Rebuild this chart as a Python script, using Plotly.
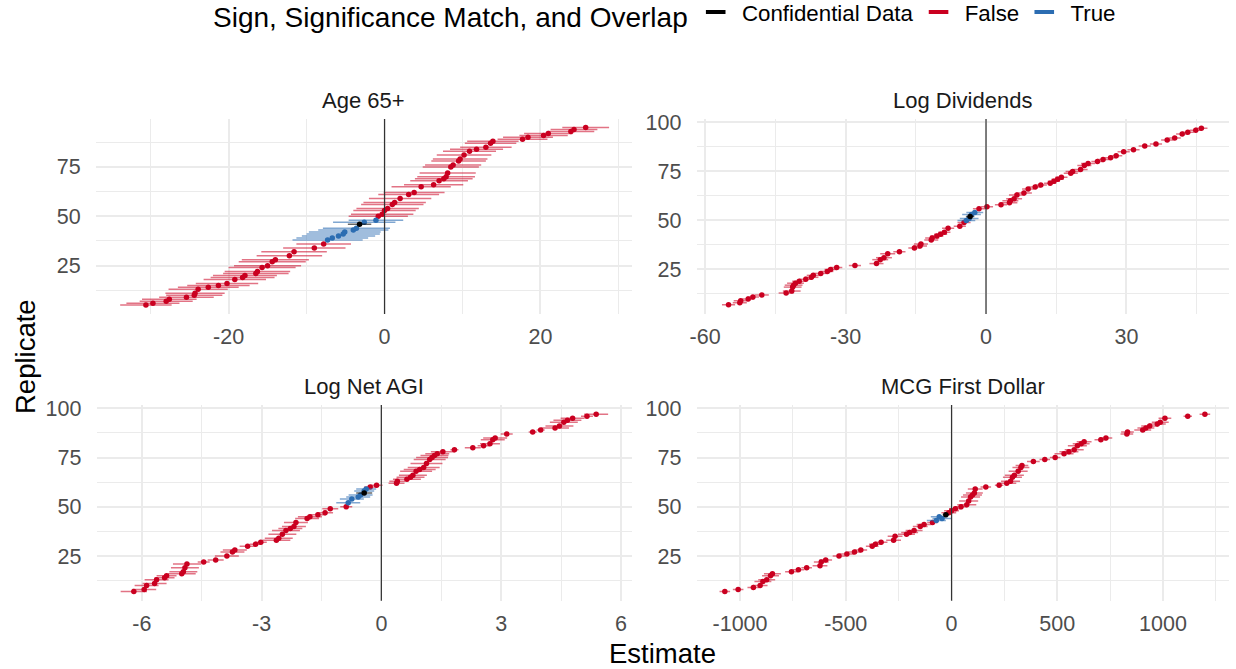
import plotly.graph_objects as go

# ---------------- data ----------------
panel_titles = ["Age 65+", "Log Dividends", "Log Net AGI", "MCG First Dollar"]
group_names = ["Confidential Data", "False", "True"]

# Age 65+
age_rep = [5, 6, 7, 8, 9, 10, 11, 13, 14, 15, 16, 18, 19, 20, 21, 22, 24, 25, 27, 28, 30, 32, 34, 36,
           38, 39, 40, 41, 42, 43, 44, 46, 47, 48,
           50, 51, 53, 54, 56, 57, 59, 61, 62, 65, 66, 68, 69, 70, 72, 75, 76, 78, 79, 81, 83, 84, 85,
           87, 88, 89, 90, 91, 92, 93, 94, 95]
age_est = [-30.6, -29.7, -28.0, -27.6, -25.4, -24.4, -24.3, -23.9, -22.6, -21.3, -20.2, -19.2, -18.2,
           -17.9, -16.5, -16.3, -15.7, -15.0, -14.4, -14.0, -12.2, -11.6, -9.0, -7.8,
           -7.3, -6.7, -5.9, -5.3, -5.1, -4.0, -3.6, -3.2, -2.6, -1.1,
           -0.8, -0.3, 0.0, 0.4, 1.0, 1.3, 2.0, 3.1, 3.8, 4.7, 6.3, 7.0, 7.6, 7.9, 8.1, 8.5, 8.8, 9.5,
           9.7, 10.2, 10.9, 11.8, 13.0, 13.6, 13.9, 17.7, 18.4, 20.4, 21.0, 23.9, 24.3, 25.8]
age_hw = [3.3, 3.4, 3.4, 3.5, 3.5, 3.6, 3.8, 3.8, 3.9, 4.0, 4.0, 4.0, 4.1, 4.1, 4.2, 4.2, 4.3, 4.3,
          4.3, 4.3, 4.2, 4.2, 4.0, 3.5,
          4.5, 4.6, 4.7, 4.7, 4.6, 4.5, 4.3, 1.5, 4.0, 3.5,
          3.8, 4.0, 4.0, 4.0, 4.0, 4.0, 4.0, 3.9, 3.9, 3.8, 3.8, 3.7, 3.7, 3.7, 3.6, 3.6, 3.6, 3.5,
          3.5, 3.5, 3.4, 3.4, 3.3, 3.3, 3.3, 3.2, 3.2, 3.1, 3.1, 3.0, 3.0, 3.0]
age_grp = (["False"] * 24 + ["True"] * 7 + ["Confidential Data"] + ["True"] * 2 + ["False"] * 32)

# Log Dividends
div_rep = [7, 8, 9, 10, 11, 12, 13, 14, 16, 17, 18, 19, 20, 21, 22, 23, 24, 25, 26, 27, 28, 30, 31, 33,
           34, 36, 37, 38, 40, 41, 42, 43, 44, 46, 47, 49,
           50, 51, 52, 53, 54,
           56, 57, 58, 59, 60, 61, 63, 64, 66, 67, 68, 69, 70, 71, 72, 74, 75, 76, 78, 79, 80, 81, 82,
           83, 85, 86, 88, 89, 91, 92, 94, 95, 96, 97]
div_est = [-55.0, -52.6, -52.4, -50.8, -49.8, -47.9, -42.7, -41.5, -41.3, -41.1, -40.7, -39.9, -38.5,
           -37.3, -36.9, -35.3, -33.9, -33.2, -31.9, -28.0, -23.4, -22.6, -21.8, -21.0, -18.5, -15.3,
           -14.1, -13.9, -11.7, -11.5, -10.5, -9.7, -8.9, -8.1, -5.6, -4.7,
           -4.2, -3.6, -3.4, -3.1, -2.4,
           -1.5, 0.2, 3.2, 5.0, 5.2, 6.0, 6.6, 8.1, 9.0, 10.5, 11.7, 13.7, 14.5, 15.3, 16.1, 18.1, 18.5,
           20.2, 21.0, 21.8, 23.8, 25.0, 26.6, 27.8, 29.4, 31.5, 33.9, 36.3, 38.7, 40.3, 41.9, 43.1,
           44.8, 46.0]
div_hw = [1.4, 1.5, 1.5, 1.3, 1.3, 1.5, 1.6, 1.9, 1.9, 1.9, 1.8, 1.5, 1.4, 1.5, 1.4, 1.3, 1.3, 1.3,
          1.2, 1.3, 1.5, 1.7, 1.7, 1.6, 1.3, 1.3, 1.5, 1.5, 1.5, 1.5, 1.4, 1.4, 1.3, 1.3, 1.3, 1.4,
          1.9, 2.0, 0.9, 2.0, 1.8,
          1.3, 1.3, 1.3, 1.7, 1.7, 1.7, 1.7, 1.7, 1.3, 1.3, 1.3, 1.3, 1.3, 1.3, 1.3, 1.5, 1.5, 1.5,
          1.5, 1.5, 1.3, 1.3, 1.3, 1.3, 1.3, 1.3, 1.3, 1.3, 1.3, 1.3, 1.3, 1.3, 1.3, 1.3]
div_grp = (["False"] * 36 + ["True"] * 2 + ["Confidential Data"] + ["True"] * 2 + ["False"] * 34)

# Log Net AGI
agi_rep = [7, 8, 10, 11, 13, 14, 15, 16, 17, 19, 21, 22, 23, 25, 27, 28, 30, 31, 32, 33, 34, 36, 38,
           39, 40, 42, 44, 45, 46, 47, 49, 50,
           52, 54, 55, 56, 57, 58, 59,
           60, 61, 62, 63, 64, 65, 66, 68, 69, 70, 72, 74, 75, 76, 77, 78, 79, 80, 81, 82, 84, 85, 87,
           88, 89, 90, 91, 93, 94, 95, 96, 97]
agi_est = [-6.2, -5.94, -5.88, -5.68, -5.63, -5.43, -5.38, -5.0, -4.96, -4.92, -4.87, -4.45, -4.15,
           -3.87, -3.73, -3.67, -3.35, -3.15, -3.02, -2.63, -2.57, -2.48, -2.39, -2.28, -2.19, -2.14,
           -1.86, -1.79, -1.59, -1.41, -1.28, -0.88,
           -0.83, -0.74, -0.58, -0.52, -0.43, -0.43, -0.38,
           -0.28, -0.12, 0.38, 0.40, 0.64, 0.73, 0.79, 0.87, 0.96, 1.06, 1.13, 1.21, 1.27, 1.33, 1.40,
           1.54, 1.83, 2.29, 2.56, 2.72, 2.79, 2.85, 3.14, 3.79, 3.99, 4.35, 4.46, 4.57, 4.66, 4.79,
           5.15, 5.38]
agi_hw = [0.33, 0.3, 0.3, 0.3, 0.3, 0.25, 0.25, 0.35, 0.35, 0.35, 0.35, 0.15, 0.2, 0.3, 0.3, 0.3,
          0.2, 0.15, 0.15, 0.35, 0.35, 0.35, 0.35, 0.3, 0.3, 0.3, 0.3, 0.3, 0.2, 0.2, 0.2, 0.15,
          0.3, 0.3, 0.3, 0.3, 0.2, 0.25, 0.25,
          0.15, 0.15, 0.2, 0.2, 0.35, 0.35, 0.35, 0.4, 0.4, 0.4, 0.4, 0.4, 0.4, 0.35, 0.3, 0.3, 0.1,
          0.2, 0.15, 0.25, 0.3, 0.3, 0.15, 0.1, 0.1, 0.35, 0.35, 0.35, 0.35, 0.3, 0.15, 0.3]
agi_grp = (["False"] * 32 + ["True"] * 4 + ["Confidential Data"] + ["True"] * 2 + ["False"] * 32)

# MCG First Dollar
mcg_rep = [7, 8, 9, 10, 12, 13, 15, 16, 17, 18, 19, 20, 22, 23, 25, 26, 27, 28, 30, 31, 32, 33, 35,
           36, 37, 38, 40, 41, 42,
           43, 44, 45, 46,
           47, 48, 49, 50, 51, 53, 55, 56, 57, 59, 60, 61, 62, 63, 65, 66, 68, 70, 71, 73, 74, 75, 77,
           78, 79, 81, 82, 83, 84, 85, 87, 88, 89, 90, 91, 92, 93, 95, 96, 97]
mcg_est = [-1072, -1009, -937, -905, -892, -874, -856, -847, -757, -724, -685, -622, -616, -595, -532,
           -495, -459, -429, -375, -360, -333, -274, -267, -213, -198, -177, -148, -130, -90,
           -72, -45, -58, -27,
           -13, 0, 18, 45, 72, 81, 90, 99, 108, 112, 162, 225, 261, 279, 288, 297, 315, 328, 333, 387,
           441, 490, 532, 555, 580, 595, 613, 627, 706, 730, 829, 832, 904, 919, 937, 973, 987, 1009,
           1117, 1198]
mcg_hw = [25, 25, 28, 35, 40, 40, 40, 40, 30, 28, 25, 35, 35, 30, 30, 35, 30, 30, 30, 30, 30, 35, 35,
          40, 40, 40, 35, 35, 25,
          45, 45, 40, 15,
          35, 35, 30, 30, 45, 45, 45, 45, 40, 35, 25, 20, 45, 45, 45, 45, 45, 40, 30, 30, 25, 25, 45,
          45, 45, 45, 40, 35, 30, 30, 30, 30, 40, 40, 40, 40, 40, 30, 20, 25]
mcg_grp = (["False"] * 29 + ["True"] * 3 + ["Confidential Data"] + ["False"] * 40)

# axis ticks
x_tickvals = [[-20, 0, 20], [-60, -30, 0, 30], [-6, -3, 0, 3, 6], [-1000, -500, 0, 500, 1000]]
x_ticktext = [["-20", "0", "20"], ["-60", "-30", "0", "30"], ["-6", "-3", "0", "3", "6"],
              ["-1000", "-500", "0", "500", "1000"]]
y_tickvals = [25, 50, 75, 100]

# ---------------- styling / layout ----------------
W, H = 1236, 669
ML, MR, MT, MB = 90, 5, 100, 60
PW, PH = W - ML - MR, H - MT - MB


def fx(px):
    return (px - ML) / PW


def fy(py):
    return (H - MB - py) / PH


colors = {"Confidential Data": "#000000", "False": "#CA0020", "True": "#2C6DB2"}
bar_colors = {"Confidential Data": "rgba(0,0,0,0.6)", "False": "rgba(202,0,32,0.55)",
              "True": "rgba(44,109,178,0.6)"}
FONT = "Liberation Sans, Arial, Helvetica, sans-serif"

x_px = [(96, 631.7), (696.7, 1229), (96.7, 631.7), (696.7, 1229)]
y_px = [(119, 314), (119, 314), (405, 600.7), (405, 600.7)]
x_ranges = [[-37.0, 31.7], [-61.8, 51.9], [-7.13, 6.27], [-1205, 1312]]
y_ranges = [[0.5, 99.3], [2.3, 101.7], [2.3, 101.7], [2.3, 101.7]]
x_minor = [10, 15, 1.5, 250]

panels = [
    (age_rep, age_est, age_hw, age_grp),
    (div_rep, div_est, div_hw, div_grp),
    (agi_rep, agi_est, agi_hw, agi_grp),
    (mcg_rep, mcg_est, mcg_hw, mcg_grp),
]

fig = go.Figure()
draw_order = ["False", "True", "Confidential Data"]
for i, (rep, est, hw, grp) in enumerate(panels):
    ax = "" if i == 0 else str(i + 1)
    for g in draw_order:
        idx = [k for k, v in enumerate(grp) if v == g]
        if not idx:
            continue
        fig.add_trace(go.Scatter(
            x=[est[k] for k in idx], y=[rep[k] for k in idx],
            mode="markers",
            marker=dict(color=colors[g], size=5.5, line=dict(width=0)),
            error_x=dict(type="data", array=[hw[k] for k in idx], symmetric=True,
                         color=bar_colors[g], thickness=1.5, width=0),
            xaxis="x" + ax, yaxis="y" + ax, showlegend=False, hoverinfo="x+y",
        ))

# legend entries
for g in group_names:
    fig.add_trace(go.Scatter(
        x=[None], y=[None], mode="markers", name="\u00a0" + g,
        marker=dict(color=colors[g], symbol="line-ew-open", size=14,
                    line=dict(color=colors[g], width=4)),
        showlegend=True,
    ))

layout = dict(
    width=W, height=H,
    margin=dict(l=ML, r=MR, t=MT, b=MB, autoexpand=False),
    paper_bgcolor="white", plot_bgcolor="white",
    font=dict(family=FONT, color="#000000"),
    legend=dict(
        orientation="h", x=fx(211), xanchor="left", y=fy(-9), yanchor="top",
        title=dict(text="Sign, Significance Match, and Overlap", side="left",
                   font=dict(size=28, color="#000000", family=FONT)),
        font=dict(size=22.3, color="#000000", family=FONT),
        traceorder="normal", itemsizing="trace",
    ),
)

annotations = []
shapes = []
for i in range(4):
    ax = "" if i == 0 else str(i + 1)
    xd = [fx(x_px[i][0]), fx(x_px[i][1])]
    yd = [fy(y_px[i][1]), fy(y_px[i][0])]
    layout["xaxis" + ax] = dict(
        domain=xd, range=x_ranges[i], anchor="y" + ax,
        tickmode="array", tickvals=x_tickvals[i], ticktext=x_ticktext[i],
        showgrid=True, gridcolor="#EBEBEB", gridwidth=2.2,
        minor=dict(dtick=x_minor[i], tick0=0, showgrid=True, gridcolor="#EBEBEB", gridwidth=1.1),
        zeroline=False, showline=False, ticks="outside", ticklen=3, tickcolor="rgba(0,0,0,0)",
        tickfont=dict(size=21.5, color="#4D4D4D", family=FONT),
    )
    layout["yaxis" + ax] = dict(
        domain=yd, range=y_ranges[i], anchor="x" + ax,
        tickmode="array", tickvals=y_tickvals, ticktext=[str(v) for v in y_tickvals],
        showgrid=True, gridcolor="#EBEBEB", gridwidth=2.2,
        minor=dict(dtick=12.5, tick0=0, showgrid=True, gridcolor="#EBEBEB", gridwidth=1.1),
        zeroline=False, showline=False, ticks="outside", ticklen=10, tickcolor="rgba(0,0,0,0)",
        tickfont=dict(size=21.5, color="#4D4D4D", family=FONT),
    )
    annotations.append(dict(
        text=panel_titles[i], x=(xd[0] + xd[1]) / 2, y=fy(y_px[i][0] - 19),
        xref="paper", yref="paper", xanchor="center", yanchor="middle", showarrow=False,
        font=dict(size=22, color="#1A1A1A", family=FONT),
    ))
    shapes.append(dict(
        type="line", xref="x" + ax, yref="y" + ax + " domain", x0=0, x1=0, y0=0, y1=1,
        line=dict(color="#333333", width=1.2), layer="above",
    ))

annotations.append(dict(text="Replicate", x=fx(25), y=fy(357), xref="paper", yref="paper",
                        textangle=-90, showarrow=False, xanchor="center", yanchor="middle",
                        font=dict(size=27.5, color="#000000", family=FONT)))
annotations.append(dict(text="Estimate", x=fx(662.5), y=fy(653), xref="paper", yref="paper",
                        showarrow=False, xanchor="center", yanchor="middle",
                        font=dict(size=27.5, color="#000000", family=FONT)))

layout["annotations"] = annotations
layout["shapes"] = shapes
fig.update_layout(**layout)

fig.write_html("out.html",
               config={"displayModeBar": False},
               post_script="document.body.style.margin='0';document.body.style.overflow='hidden';")
